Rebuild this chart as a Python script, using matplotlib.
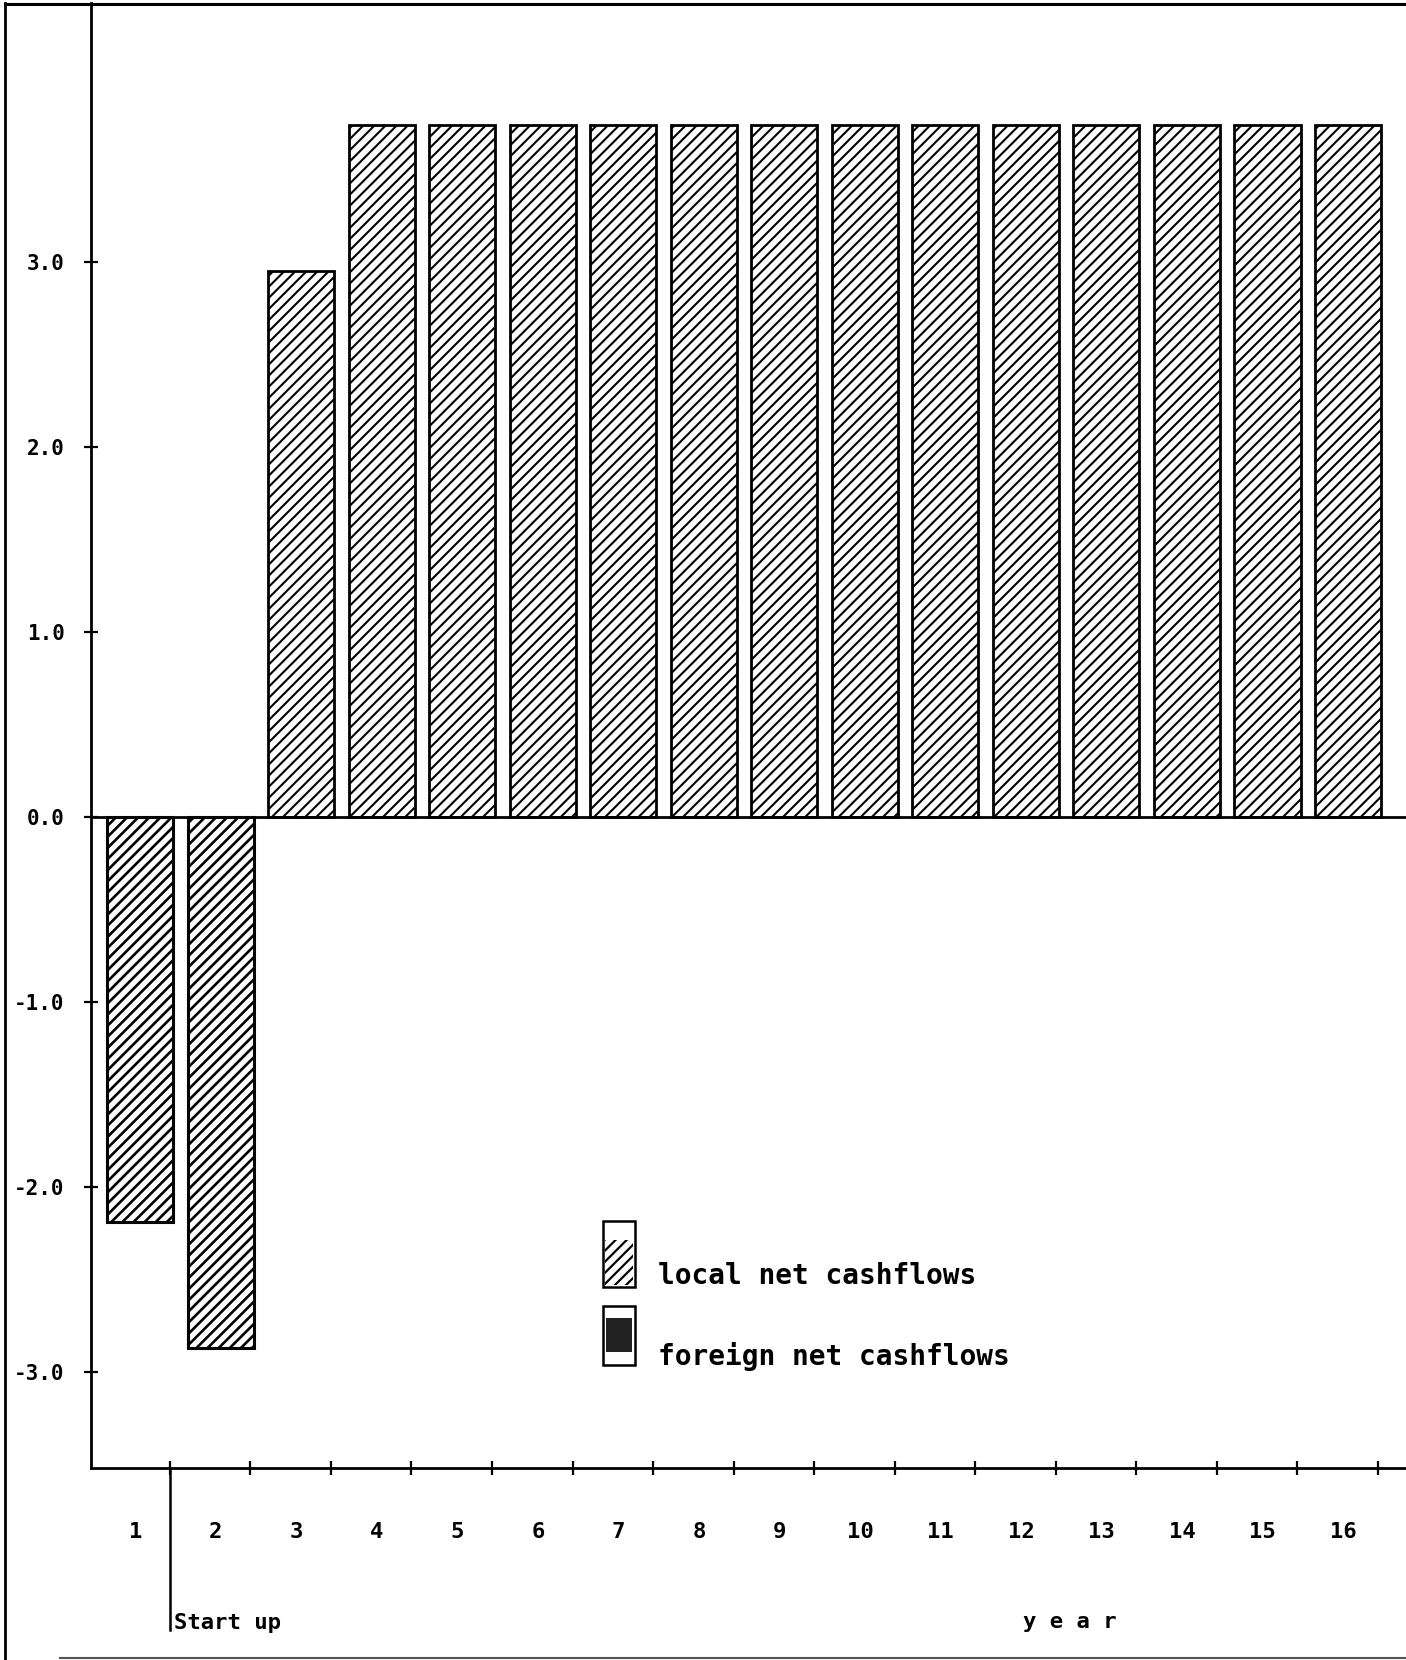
import matplotlib
matplotlib.use("Agg")
import matplotlib.pyplot as plt
from matplotlib.patches import Rectangle
from matplotlib.lines import Line2D
import numpy as np

# ---- data -------------------------------------------------------------
years = list(range(1, 17))
net_cashflows = [-2.19, -2.87, 2.95, 3.74, 3.74, 3.74, 3.74, 3.74,
                 3.74, 3.74, 3.74, 3.74, 3.74, 3.74, 3.74, 3.74]
year_labels = [str(y) for y in years]
y_ticks = [-3.0, -2.0, -1.0, 0.0, 1.0, 2.0, 3.0]
y_tick_labels = ["-3.0", "-2.0", "-1.0", "0.0", "1.0", "2.0", "3.0"]
legend_labels = ["local net cashflows", "foreign net cashflows"]

# ---- figure -----------------------------------------------------------
W, H = 1406, 1660
DPI = 100
plt.rcParams["font.family"] = ["DejaVu Sans Mono", "DejaVu Sans"]
plt.rcParams["font.weight"] = "bold"
plt.rcParams["hatch.color"] = "black"

fig = plt.figure(figsize=(W / DPI, H / DPI), dpi=DPI)


def fx(px):
    return px / W


def fy(py):
    return 1 - py / H


ax = fig.add_axes([fx(91), fy(1468), 1 - fx(91), fy(3) - fy(1468)])
ax.set_xlim(0.52, 16.85)
ax.set_ylim(-3.52, 4.40)

# bars, hatched by sign
offset, width = 0.13, 0.82
for yr, val in zip(years, net_cashflows):
    if val < 0:
        plt.rcParams["hatch.linewidth"] = 1.9
        ax.bar(yr + offset, val, width=width, bottom=0, facecolor="white",
               edgecolor="black", linewidth=2.2, hatch="///")
    else:
        plt.rcParams["hatch.linewidth"] = 1.5
        ax.bar(yr + offset, val, width=width, bottom=0, facecolor="white",
               edgecolor="black", linewidth=2.0, hatch="///")

ax.axhline(0, color="black", linewidth=2.0, zorder=5)

# axes styling
for side in ("right", "top"):
    ax.spines[side].set_visible(False)
for side in ("left", "bottom"):
    ax.spines[side].set_linewidth(2.0)

boundaries = np.arange(1.5, 17, 1.0)
ax.set_xticks(boundaries)
ax.set_xticklabels([])
ax.set_xticks(np.array(years) + 0.07, minor=True)
ax.set_xticklabels(year_labels, minor=True, fontsize=16, fontweight="bold")
ax.tick_params(axis="x", which="major", direction="inout", length=10, width=1.6)
ax.tick_params(axis="x", which="minor", length=0, pad=39)

ax.set_yticks(y_ticks)
ax.set_yticklabels(y_tick_labels, fontsize=15, fontweight="bold")
ax.tick_params(axis="y", direction="inout", length=10, width=1.6, pad=14)

# start-up marker line below the axis
fig.add_artist(Line2D([fx(170), fx(170)], [fy(1468), fy(1630)],
                      color="black", linewidth=1.8))
fig.text(fx(174), fy(1623), "Start up", fontsize=16, fontweight="bold",
         ha="left", va="center")
fig.text(fx(1070), fy(1622), "y e a r", fontsize=16, fontweight="bold",
         ha="center", va="center")

# legend drawn as boxes beside labels
fig.add_artist(Rectangle((fx(603), fy(1287)), fx(32), fy(1221) - fy(1287),
                         facecolor="white", edgecolor="black", linewidth=1.8))
plt.rcParams["hatch.linewidth"] = 1.6
fig.add_artist(Rectangle((fx(605), fy(1285)), fx(28), fy(1240) - fy(1285),
                         facecolor="none", edgecolor="black", hatch="///",
                         linewidth=0))
fig.add_artist(Rectangle((fx(603), fy(1365)), fx(32), fy(1306) - fy(1365),
                         facecolor="white", edgecolor="black", linewidth=1.8))
fig.add_artist(Rectangle((fx(606), fy(1352)), fx(26), fy(1318) - fy(1352),
                         facecolor="#222222", edgecolor="none", linewidth=0))
fig.text(fx(658), fy(1276), legend_labels[0], fontsize=20, fontweight="bold",
         ha="left", va="center")
fig.text(fx(658), fy(1356), legend_labels[1], fontsize=20, fontweight="bold",
         ha="left", va="center")

# outer frame
fig.add_artist(Line2D([fx(5), fx(5)], [fy(3), fy(1660)], color="black",
                      linewidth=2.0))
fig.add_artist(Line2D([fx(5), 1.0], [fy(4), fy(4)], color="black",
                      linewidth=2.2))
fig.add_artist(Line2D([fx(60), 1.0], [fy(1658), fy(1658)], color="#555555",
                      linewidth=1.5))

fig.savefig("out.png", dpi=DPI)
